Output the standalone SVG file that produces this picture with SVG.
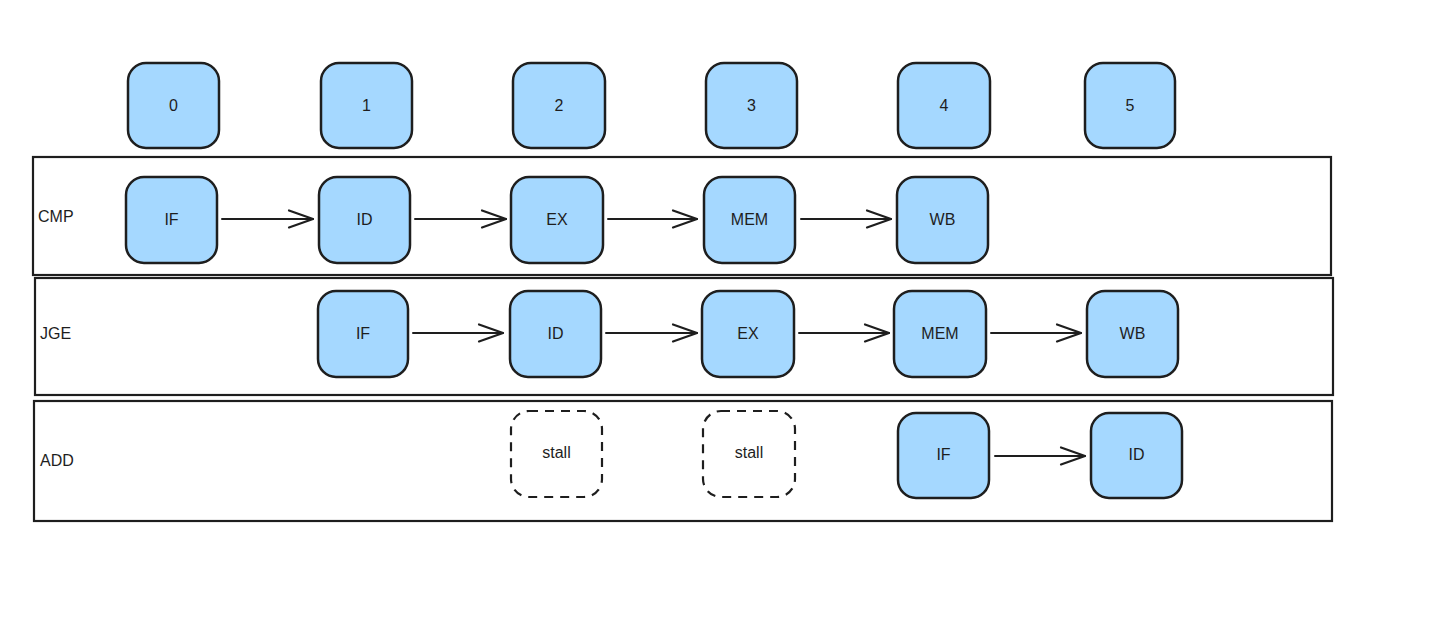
<svg xmlns="http://www.w3.org/2000/svg" width="1456" height="633" viewBox="0 0 1456 633">
<defs>
<style>
.box{fill:#a5d8ff;stroke:#1e1e1e;stroke-width:2.5}
.stall{fill:none;stroke:#1e1e1e;stroke-width:2.2;stroke-dasharray:9 7}
.frame{fill:none;stroke:#1e1e1e;stroke-width:2.2}
.t{font-family:"Liberation Sans",Arial,sans-serif;font-size:16px;fill:#1e1e1e;text-anchor:middle;dominant-baseline:central}
.lbl{font-family:"Liberation Sans",Arial,sans-serif;font-size:16px;fill:#1e1e1e;dominant-baseline:central}
.c{fill:none;stroke:#1e1e1e;stroke-width:2;stroke-linecap:round;stroke-linejoin:round}
</style>
<marker id="ah" markerWidth="28" markerHeight="20" refX="26" refY="10" orient="auto" markerUnits="userSpaceOnUse">
<path d="M2 1.5 L26 10 L2 18.5" fill="none" stroke="#1e1e1e" stroke-width="2.2" stroke-linecap="round" stroke-linejoin="round"/>
</marker>
</defs>
<rect width="1456" height="633" fill="#ffffff"/>

<g id="frame-cmp"><rect class="frame" x="33" y="157" width="1298" height="118"/><text class="lbl" x="38" y="216">CMP</text></g>
<g id="frame-jge"><rect class="frame" x="35" y="278" width="1298" height="117"/><text class="lbl" x="40" y="333">JGE</text></g>
<g id="frame-add"><rect class="frame" x="34" y="401" width="1298" height="120"/><text class="lbl" x="40" y="460">ADD</text></g>

<g id="cycle-0"><rect class="box" x="128" y="63" width="91" height="85" rx="18"/><text class="t" x="173.5" y="105.5">0</text></g>
<g id="cycle-1"><rect class="box" x="321" y="63" width="91" height="85" rx="18"/><text class="t" x="366.5" y="105.5">1</text></g>
<g id="cycle-2"><rect class="box" x="513" y="63" width="92" height="85" rx="18"/><text class="t" x="559" y="105.5">2</text></g>
<g id="cycle-3"><rect class="box" x="706" y="63" width="91" height="85" rx="18"/><text class="t" x="751.5" y="105.5">3</text></g>
<g id="cycle-4"><rect class="box" x="898" y="63" width="92" height="85" rx="18"/><text class="t" x="944" y="105.5">4</text></g>
<g id="cycle-5"><rect class="box" x="1085" y="63" width="90" height="85" rx="18"/><text class="t" x="1130" y="105.5">5</text></g>

<g id="cmp-if"><rect class="box" x="126" y="177" width="91" height="86" rx="18"/><text class="t" x="171.5" y="219">IF</text></g>
<g id="cmp-id"><rect class="box" x="319" y="177" width="91" height="86" rx="18"/><text class="t" x="364.5" y="219">ID</text></g>
<g id="cmp-ex"><rect class="box" x="511" y="177" width="92" height="86" rx="18"/><text class="t" x="557" y="219">EX</text></g>
<g id="cmp-mem"><rect class="box" x="704" y="177" width="91" height="86" rx="18"/><text class="t" x="749.5" y="219">MEM</text></g>
<g id="cmp-wb"><rect class="box" x="897" y="177" width="91" height="86" rx="18"/><text class="t" x="942.5" y="219">WB</text></g>

<g id="jge-if"><rect class="box" x="318" y="291" width="90" height="86" rx="18"/><text class="t" x="363" y="333">IF</text></g>
<g id="jge-id"><rect class="box" x="510" y="291" width="91" height="86" rx="18"/><text class="t" x="555.5" y="333">ID</text></g>
<g id="jge-ex"><rect class="box" x="702" y="291" width="92" height="86" rx="18"/><text class="t" x="748" y="333">EX</text></g>
<g id="jge-mem"><rect class="box" x="894" y="291" width="92" height="86" rx="18"/><text class="t" x="940" y="333">MEM</text></g>
<g id="jge-wb"><rect class="box" x="1087" y="291" width="91" height="86" rx="18"/><text class="t" x="1132.5" y="333">WB</text></g>

<g id="add-stall-1"><rect class="stall" x="511" y="411" width="91" height="86" rx="18"/><text class="t" x="556.5" y="452">stall</text></g>
<g id="add-stall-2"><rect class="stall" x="703" y="411" width="92" height="86" rx="18"/><text class="t" x="749" y="452">stall</text></g>
<g id="add-if"><rect class="box" x="898" y="413" width="91" height="85" rx="18"/><text class="t" x="943.5" y="454">IF</text></g>
<g id="add-id"><rect class="box" x="1091" y="413" width="91" height="85" rx="18"/><text class="t" x="1136.5" y="454">ID</text></g>

<g id="connectors">
<line class="c" x1="222" y1="219" x2="313" y2="219" marker-end="url(#ah)"/>
<line class="c" x1="415" y1="219" x2="506" y2="219" marker-end="url(#ah)"/>
<line class="c" x1="608" y1="219" x2="697" y2="219" marker-end="url(#ah)"/>
<line class="c" x1="801" y1="219" x2="891" y2="219" marker-end="url(#ah)"/>
<line class="c" x1="413" y1="333" x2="503" y2="333" marker-end="url(#ah)"/>
<line class="c" x1="606" y1="333" x2="697" y2="333" marker-end="url(#ah)"/>
<line class="c" x1="799" y1="333" x2="889" y2="333" marker-end="url(#ah)"/>
<line class="c" x1="991" y1="333" x2="1081" y2="333" marker-end="url(#ah)"/>
<line class="c" x1="995" y1="456" x2="1085" y2="456" marker-end="url(#ah)"/>
</g>
</svg>
